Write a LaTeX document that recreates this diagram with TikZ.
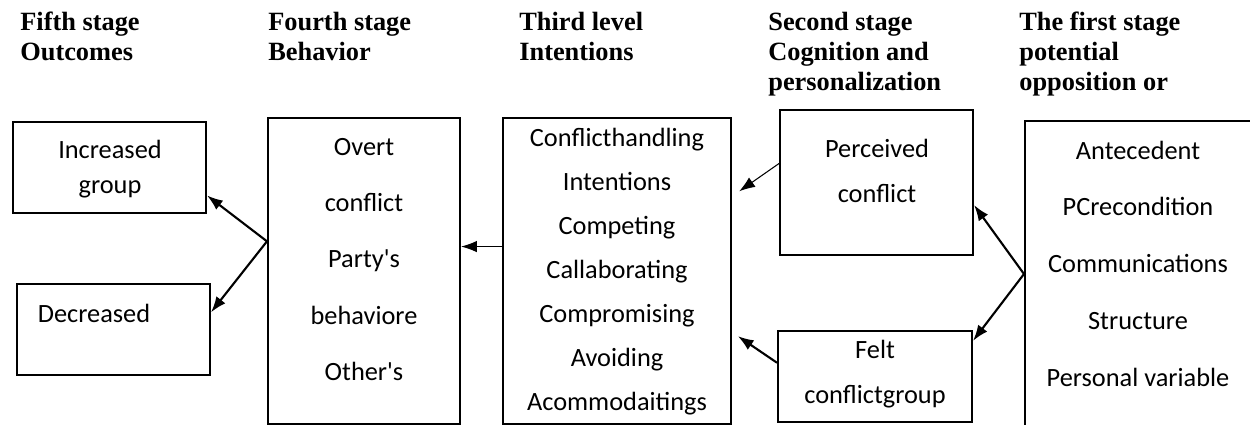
\documentclass[tikz,border=0pt]{standalone}
\usepackage{fontspec}
\setmainfont{Carlito}
\newfontfamily\hdfont{Liberation Serif}
\usetikzlibrary{arrows.meta,positioning}
\tikzstyle{box}=[rectangle,draw,line width=1.2pt,inner sep=0pt,fill=white]
\tikzstyle{txt}=[align=center,inner sep=0pt,text=black]
\tikzstyle{head}=[align=left,anchor=north west,inner sep=0pt,font=\hdfont\bfseries\fontsize{15}{17}\selectfont]
\tikzstyle{child}=[->,line width=1.2pt,>={Latex[length=9pt,width=6.5pt]}]
\tikzstyle{childT}=[->,line width=0.6pt,>={Latex[length=9pt,width=6.5pt]}]

\begin{document}
\begin{tikzpicture}[x=0.02cm,y=-0.02cm]
  \useasboundingbox (0,0) rectangle (1250,425);
  \clip (0,0) rectangle (1250,425);

  % stage titles
  \node[head] (h5) at (20,12) {Fifth stage\\Outcomes};
  \node[head] (h4) at (268,12) {Fourth stage\\Behavior};
  \node[head] (h3) at (519,12) {Third level\\Intentions};
  \node[head] (h2) at (768,12) {Second stage\\Cognition and\\personalization};
  \node[head] (h1) at (1019,12) {The first stage\\potential\\opposition or};

  % boxes
  \node[box,minimum width=3.86cm,minimum height=1.82cm] (inc) at (109.5,167.5) {};
  \node[box,minimum width=3.86cm,minimum height=1.82cm] (dec) at (113.5,329.5) {};
  \node[box,minimum width=3.84cm,minimum height=6.12cm] (fou) at (364,271) {};
  \node[box,minimum width=4.56cm,minimum height=6.12cm] (thr) at (617,271) {};
  \node[box,minimum width=3.86cm,minimum height=2.9cm] (per) at (876.5,182.5) {};
  \node[box,minimum width=3.88cm,minimum height=1.82cm] (felt) at (875,376.5) {};
  \node[box,minimum width=4.52cm,minimum height=6.12cm] (fir) at (1138,274) {};

  % box texts
  \node[txt,font=\fontsize{15}{19.5}\selectfont] (inc-t) at (110,169) {Increased\\group};
  \node[txt,font=\fontsize{15}{18}\selectfont] (dec-t) at (94,313) {Decreased};
  \node[txt,font=\fontsize{15}{32}\selectfont] (fou-t) at (364,259.5) {Overt\\conflict\\Party\textquotesingle s\\behaviore\\Other\textquotesingle s};
  \node[txt,font=\fontsize{15}{25}\selectfont] (thr-t) at (617,271.5) {Conflicthandling\\Intentions\\Competing\\Callaborating\\Compromising\\Avoiding\\Acommodaitings};
  \node[txt,font=\fontsize{15}{25.6}\selectfont] (per-t) at (877,170.5) {Perceived\\conflict};
  \node[txt,font=\fontsize{15}{25.6}\selectfont] (felt-t) at (875,374.5) {Felt\\conflictgroup};
  \node[txt,font=\fontsize{15}{32.3}\selectfont] (fir-t) at (1138,263.5) {Antecedent\\PCrecondition\\Communications\\Structure\\Personal variable};

  % connectors
  \coordinate (s4) at (fou.163);
  \draw[child] (s4)--(inc.-16); \draw[child] (s4)--(dec.10);
  \draw[childT] (thr.168)--(thr.168 -| fou.east);
  \draw[childT,shorten >=5pt] (per.169)--(thr.33);
  \draw[child,shorten >=4pt] (felt.172)--(thr.-28);
  \draw[child] (fir.west)--(per.-13); \draw[child] (fir.west)--(felt.20);

\end{tikzpicture}
\end{document}
